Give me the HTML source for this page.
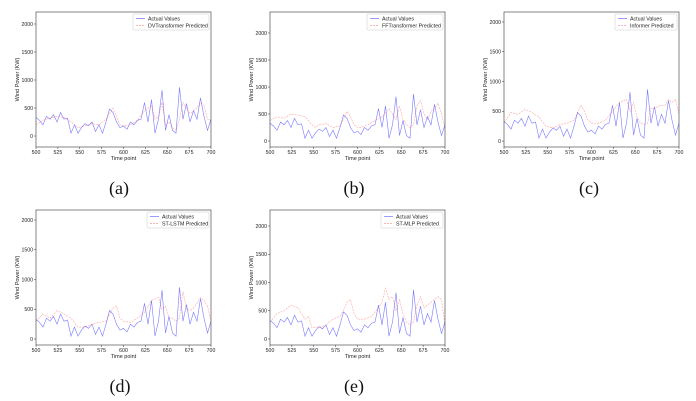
<!DOCTYPE html>
<html><head><meta charset="utf-8"><style>
body{margin:0;background:#fff;width:696px;height:401px;overflow:hidden}
svg{display:block}
text{font-family:"Liberation Sans",sans-serif}
.cap{font-family:"Liberation Serif",serif;font-size:18px}
</style></head><body>
<svg id="fig" width="696" height="401"></svg>
<script>
const tickX=[500,525,550,575,600,625,650,675,700];
const tickY=[0,500,1000,1500,2000];
const actualT=[500,504,508,512,516,520,524,528,532,536,540,544,548,552,556,560,564,568,572,576,580,584,588,592,596,600,604,608,612,616,620,624,628,632,636,640,644,648,652,656,660,664,668,672,676,680,684,688,692,696,700];
const actualV=[330,280,200,350,300,380,250,420,300,320,50,200,50,150,220,180,250,80,200,50,250,480,420,250,150,180,120,250,200,280,300,600,250,650,50,300,820,100,380,100,50,870,300,580,250,450,300,680,350,100,300];
const dvtT=[500,508,516,524,532,540,548,556,564,572,580,588,592,596,600,608,616,624,632,636,640,644,648,652,656,660,664,668,672,676,680,684,688,692,696,700];
const dvtV=[200,280,320,350,330,250,150,180,220,200,300,500,350,200,180,200,280,450,550,300,350,600,200,250,150,100,300,600,500,400,450,500,600,550,300,280];
const fftT=[500,508,516,524,532,540,548,552,556,564,572,580,584,588,592,596,600,604,612,620,628,636,644,648,652,656,660,664,668,672,676,680,684,688,692,696,700];
const fftV=[380,450,420,500,480,450,300,250,300,320,250,280,400,550,450,300,250,250,300,380,450,600,400,650,400,300,250,300,650,750,500,400,550,600,700,500,250];
const infT=[500,508,516,524,532,540,548,556,564,572,580,588,592,596,600,608,616,624,632,640,644,648,652,656,660,664,668,672,676,680,684,688,692,696,700];
const infV=[300,480,450,530,480,400,250,220,280,300,350,600,500,350,300,300,350,500,650,700,500,650,400,300,280,300,550,550,580,600,600,700,650,700,450];
const lstmT=[500,508,516,524,532,540,548,556,564,572,580,588,592,596,600,608,616,624,632,640,644,648,652,656,660,664,668,672,676,680,684,688,692,696,700];
const lstmV=[300,420,350,480,420,350,200,200,250,280,300,520,550,350,300,280,350,450,650,700,500,550,350,350,300,350,800,500,480,520,600,700,650,550,300];
const mlpT=[500,508,516,524,532,540,544,548,556,564,572,580,584,588,592,596,600,608,616,624,628,632,636,640,644,648,652,656,660,664,668,672,676,680,684,688,692,696,700];
const mlpV=[300,450,500,600,550,350,400,200,200,250,350,400,500,650,700,450,350,350,400,550,650,900,700,750,500,700,450,300,250,300,600,750,550,600,650,700,750,700,250];

const NS="http://www.w3.org/2000/svg";
const svg=document.getElementById('fig');
function mk(tag,attrs,parent){const e=document.createElementNS(NS,tag);for(const k in attrs)e.setAttribute(k,attrs[k]);(parent||svg).appendChild(e);return e;}
const panels=[
 {L:36,R:211,T:12,B:147,y0:-196,y1:2214,name:'DVTransformer Predicted',pt:dvtT,pv:dvtV,cap:'(a)',cx:119,cy:194,id:'a'},
 {L:270,R:445,T:12,B:147,y0:-111,y1:2389,name:'FFTransformer Predicted',pt:fftT,pv:fftV,cap:'(b)',cx:354,cy:194,id:'b'},
 {L:504,R:679,T:12,B:147,y0:-100,y1:2168,name:'Informer Predicted',pt:infT,pv:infV,cap:'(c)',cx:589,cy:194,id:'c'},
 {L:36,R:211,T:210,B:345,y0:-100,y1:2168,name:'ST-LSTM Predicted',pt:lstmT,pv:lstmV,cap:'(d)',cx:120,cy:392,id:'d'},
 {L:270,R:445,T:210,B:345,y0:-106,y1:2283,name:'ST-MLP Predicted',pt:mlpT,pv:mlpV,cap:'(e)',cx:354,cy:392,id:'e'}
];
panels.forEach(p=>{
 const g=mk('g',{});
 
 
 const sx=t=>p.L+(t-500)/200*(p.R-p.L);
 const sy=v=>p.B-(v-p.y0)/(p.y1-p.y0)*(p.B-p.T);
 const path=(T,V)=>T.map((t,i)=>(i?'L':'M')+sx(t).toFixed(1)+','+sy(V[i]).toFixed(1)).join('');
 const cl=mk('clipPath',{id:'c'+p.id},g);mk('rect',{x:p.L,y:p.T,width:p.R-p.L,height:p.B-p.T},cl);
 const la=mk('path',{d:path(actualT,actualV),fill:'none',stroke:'#3333ff','stroke-width':0.6,'stroke-opacity':0.65,'clip-path':'url(#c'+p.id+')'},g);
 
 
 const lp=mk('path',{d:path(p.pt,p.pv),fill:'none',stroke:'#ff3333','stroke-width':0.6,'stroke-opacity':0.45,'stroke-dasharray':'2,1','clip-path':'url(#c'+p.id+')'},g);
 
 
 const fr=mk('rect',{x:p.L,y:p.T,width:p.R-p.L,height:p.B-p.T,fill:'none',stroke:'#333','stroke-width':0.6},g);
 
 
 tickX.forEach(t=>{const x=sx(t);mk('line',{x1:x,x2:x,y1:p.B,y2:p.B+2,stroke:'#333','stroke-width':0.5},g);
  const tx=mk('text',{x:x,y:p.B+7,'font-size':5.2,'text-anchor':'middle',fill:'#222'},g);tx.textContent=t;
  
  });
 tickY.forEach(v=>{const y=sy(v);mk('line',{x1:p.L-2,x2:p.L,y1:y,y2:y,stroke:'#333','stroke-width':0.5},g);
  const tx=mk('text',{x:p.L-3,y:y+1.8,'font-size':5.2,'text-anchor':'end',fill:'#222'},g);tx.textContent=v;
  
  });
 const xt=mk('text',{x:(p.L+p.R)/2,y:p.B+13,'font-size':5.5,'text-anchor':'middle',fill:'#222'},g);xt.textContent='Time point';
 
 
 const yx=p.L-17,yy=(p.T+p.B)/2;
 const yt=mk('text',{x:yx,y:yy,'font-size':5.5,'text-anchor':'middle',fill:'#222',transform:'rotate(-90 '+yx+' '+yy+')'},g);yt.textContent='Wind Power (KW)';
 
 
 const lw=p.name.length>20?76:62, lx=p.R-lw-2;
 const lg=mk('g',{},g);
 
 
 mk('rect',{x:lx,y:p.T+2,width:lw,height:16,fill:'#fff',stroke:'#ccc','stroke-width':0.5,rx:1},lg);
 mk('line',{x1:lx+3,x2:lx+12,y1:p.T+6.5,y2:p.T+6.5,stroke:'#3333ff','stroke-width':0.7,'stroke-opacity':0.7},lg);
 mk('line',{x1:lx+3,x2:lx+12,y1:p.T+13.5,y2:p.T+13.5,stroke:'#ff3333','stroke-width':0.7,'stroke-opacity':0.5,'stroke-dasharray':'2,1'},lg);
 const t1=mk('text',{x:lx+15,y:p.T+8.3,'font-size':5.3,fill:'#222'},lg);t1.textContent='Actual Values';
 
 
 const t2=mk('text',{x:lx+15,y:p.T+15.3,'font-size':5.3,fill:'#222'},lg);t2.textContent=p.name;
 
 
 const cp=mk('text',{x:p.cx,y:p.cy,'text-anchor':'middle',class:'cap',fill:'#111'},g);cp.textContent=p.cap;
 
 
});
</script>
</body></html>
